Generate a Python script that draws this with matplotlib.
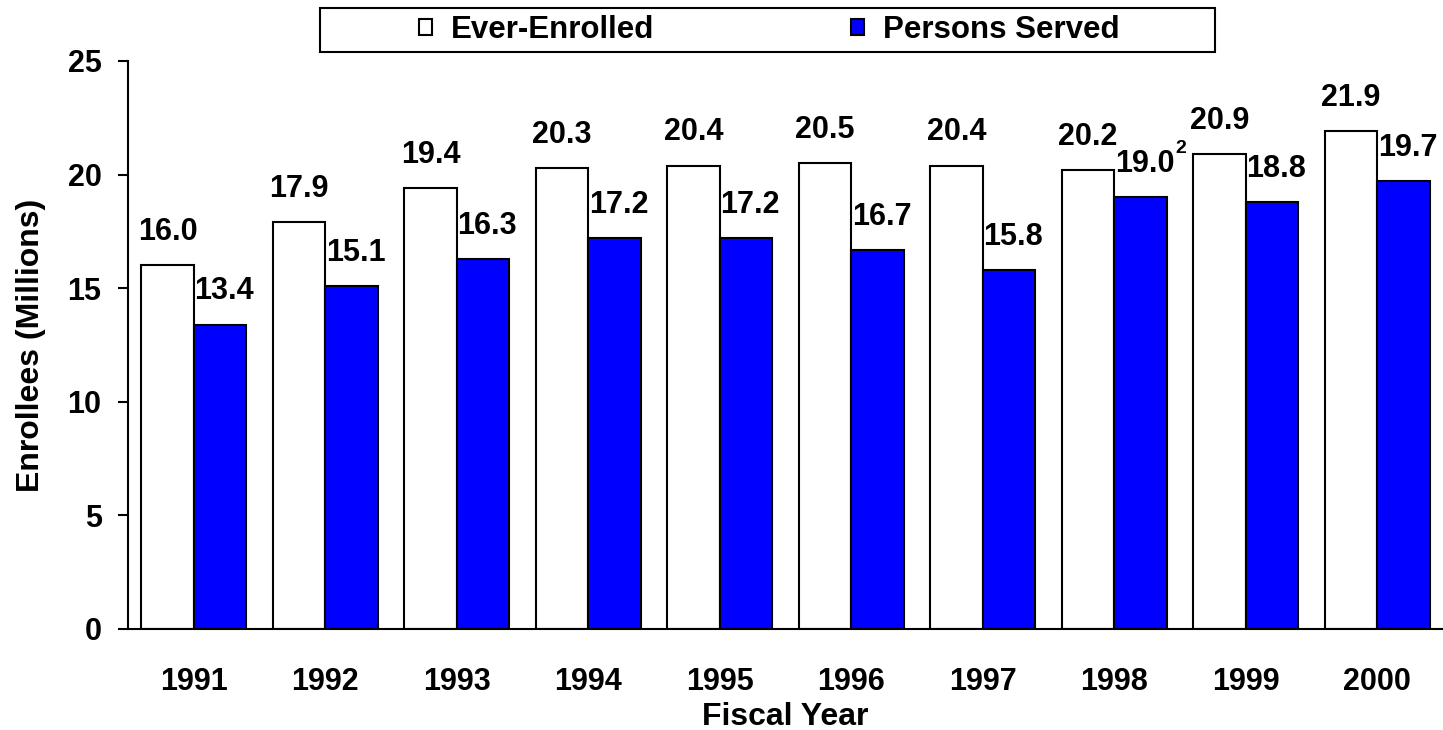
import numpy as np
import matplotlib
matplotlib.use('Agg')
import matplotlib.pyplot as plt
from matplotlib.patches import Rectangle

plt.rcParams['font.family'] = ['Liberation Sans', 'DejaVu Sans']
plt.rcParams['font.weight'] = 'bold'

years = ['1991', '1992', '1993', '1994', '1995', '1996', '1997', '1998', '1999', '2000']
ever_enrolled = [16.0, 17.9, 19.4, 20.3, 20.4, 20.5, 20.4, 20.2, 20.9, 21.9]
persons_served = [13.4, 15.1, 16.3, 17.2, 17.2, 16.7, 15.8, 19.0, 18.8, 19.7]
yticks = [0, 5, 10, 15, 20, 25]
footnote_year = '1998'
footnote_mark = '2'

W, H = 1443, 730
fig = plt.figure(figsize=(W / 100, H / 100), dpi=100)
ax = fig.add_axes([128 / W, 1 - 629 / H, 1315 / W, 568 / H])

x = np.arange(len(years))
w = 0.40
b1 = ax.bar(x - w / 2, ever_enrolled, w, color='white', edgecolor='black',
            linewidth=1.5, label='Ever-Enrolled')
b2 = ax.bar(x + w / 2, persons_served, w, color='#0000ff', edgecolor='black',
            linewidth=1.5, label='Persons Served')

ax.bar_label(b1, labels=['%.1f' % v for v in ever_enrolled], padding=13,
             fontsize=22, fontweight='bold')
lab2 = ax.bar_label(b2, labels=['%.1f' % v for v in persons_served], padding=13,
                    fontsize=22, fontweight='bold')
for t in lab2:
    t.xyann = (3, t.xyann[1])

# footnote superscript on the 1998 persons-served value
i = years.index(footnote_year)
ax.annotate(footnote_mark, xy=(1, 1), xycoords=lab2[i], xytext=(1, 7),
            textcoords='offset points', ha='left', va='top', fontsize=14,
            fontweight='bold')

ax.set_xlim(-0.5, len(years) - 0.5)
ax.set_ylim(0, 25)
ax.set_yticks(yticks)
ax.set_xticks(x)
ax.set_xticklabels(years)
ax.spines['top'].set_visible(False)
ax.spines['right'].set_visible(False)
ax.spines['left'].set_linewidth(1.5)
ax.spines['bottom'].set_linewidth(1.5)
ax.tick_params(axis='y', direction='out', length=7, width=1.5, pad=12, labelsize=22)
ax.tick_params(axis='x', length=0, pad=27, labelsize=22)

ax.set_ylabel('Enrollees (Millions)', fontsize=23, fontweight='bold')
ax.yaxis.set_label_coords(-0.062, 0.5)
ax.set_xlabel('Fiscal Year', fontsize=23, fontweight='bold')
ax.xaxis.set_label_coords(0.5, -0.128)

fig.legend(handles=[b1, b2], loc='center', bbox_to_anchor=(769 / W, 1 - 30 / H),
           ncol=2, frameon=False, fontsize=22.5, handlelength=0.42,
           handleheight=0.42, handletextpad=0.6, columnspacing=6.3)
fig.add_artist(Rectangle((320 / W, 1 - 52 / H), 895 / W, 44 / H,
                         transform=fig.transFigure, fill=False,
                         edgecolor='black', linewidth=1.5))

fig.savefig('out.png', dpi=100)
